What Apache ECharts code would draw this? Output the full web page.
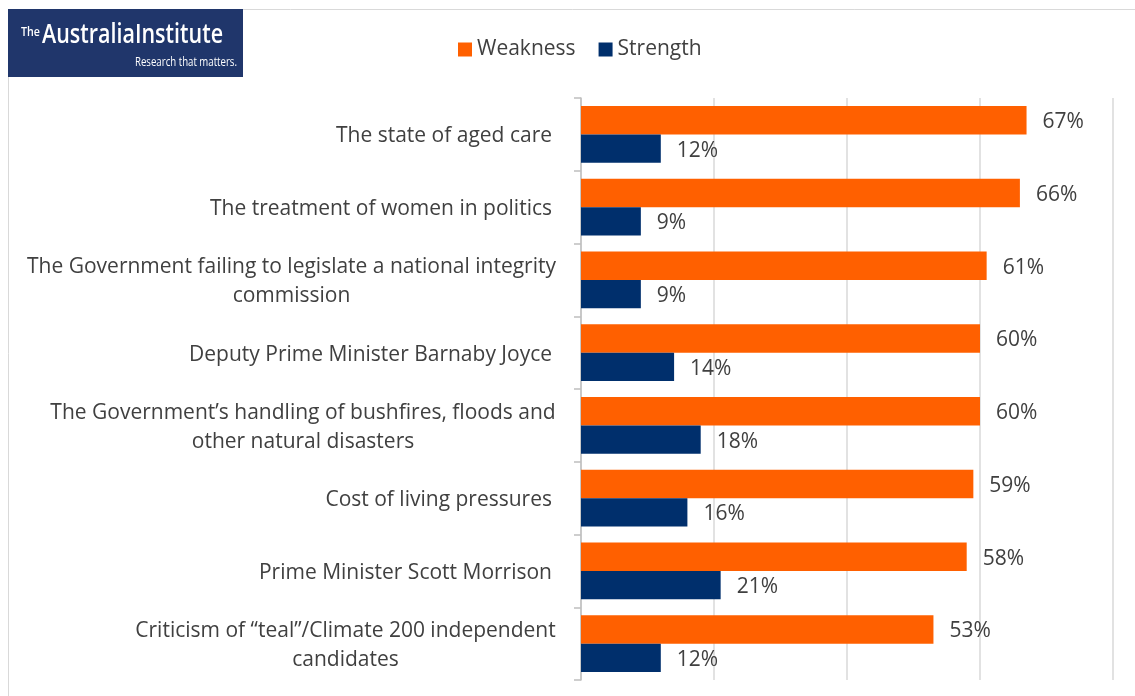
<!DOCTYPE html>
<html><head><meta charset="utf-8">
<script src="https://cdn.jsdelivr.net/npm/echarts@6/dist/echarts.min.js"></script>
<style>html,body{margin:0;padding:0;background:#fff}#c{width:1135px;height:696px}</style>
</head><body><div id="c"></div>
<script>
const categories = [
  "The state of aged care",
  "The treatment of women in politics",
  "The Government failing to legislate a national integrity\ncommission",
  "Deputy Prime Minister Barnaby Joyce",
  "The Government\u2019s handling of bushfires, floods and\nother natural disasters",
  "Cost of living pressures",
  "Prime Minister Scott Morrison",
  "Criticism of \u201cteal\u201d/Climate 200 independent\ncandidates"
];
const weakness = [67, 66, 61, 60, 60, 59, 58, 53];
const strength = [12, 9, 9, 14, 18, 16, 21, 12];
const seriesNames = ["Weakness", "Strength"];

const font = "'Open Sans', 'Noto Sans', sans-serif";
const labelSize = 21;
const cv = document.createElement('canvas').getContext('2d');
function measure(text, f) { cv.font = f; return cv.measureText(text).width; }

// rich styles so that wrapped lines are centred inside a right-aligned block
const rich = {};
categories.forEach((c, i) => {
  const lines = c.split('\n');
  if (lines.length > 1) {
    const w = Math.max(...lines.map(l => measure(l, labelSize + "px 'Open Sans'")));
    rich['m' + i] = {width: Math.ceil(w) + 2, align: 'center', fontSize: labelSize, color: '#404040', fontFamily: font, lineHeight: 29, padding: [4, 0, 0, 0]};
  }
});
rich.s = {fontSize: labelSize, color: '#404040', fontFamily: font, lineHeight: 29, padding: [4, 5, 0, 0]};

const logoFont1 = "600 27px 'Open Sans'";
const logoFont2 = "12px 'Open Sans'";
const w1 = measure('AustraliaInstitute', logoFont1);
const w2 = measure('Research that matters.', logoFont2);
const wThe = measure('The', "600 12px 'Open Sans'");

const chart = echarts.init(document.getElementById('c'), null, {renderer: 'canvas'});
const lbl = {show: true, position: 'right', distance: 16, offset: [0, 2], formatter: '{c}%', color: '#404040', fontSize: 21, fontFamily: font};
chart.setOption({
  animation: false,
  textStyle: {fontFamily: font},
  graphic: [
    {type: 'rect', shape: {x: 8.5, y: 9.5, width: 1140, height: 700}, style: {fill: 'none', stroke: '#d9d9d9', lineWidth: 1}, z: 0},
    {type: 'rect', shape: {x: 8, y: 9, width: 235, height: 68}, style: {fill: '#20366b'}, z: 10},
    {type: 'text', x: 21, y: 27, scaleX: 19 / wThe, style: {text: 'The', fill: '#fff', font: "600 12px 'Open Sans'", textVerticalAlign: 'top'}, z: 11},
    {type: 'text', x: 42, y: 22, scaleX: 181 / w1, style: {text: 'AustraliaInstitute', fill: '#fff', font: logoFont1, textVerticalAlign: 'top'}, z: 11},
    {type: 'text', x: 135, y: 57, scaleX: 102 / w2, style: {text: 'Research that matters.', fill: '#fff', font: logoFont2, textVerticalAlign: 'top'}, z: 11}
  ],
  legend: {
    data: seriesNames, top: 34, left: 453, itemWidth: 14, itemHeight: 14, itemGap: 23,
    icon: 'rect', textStyle: {fontSize: 21, color: '#404040', fontFamily: font}
  },
  grid: {left: 581, right: 22, top: 98, bottom: 16, containLabel: false},
  xAxis: {
    type: 'value', min: 0, max: 80, interval: 20,
    axisLabel: {show: false}, axisLine: {show: false}, axisTick: {show: false},
    splitLine: {show: true, lineStyle: {color: '#d9d9d9', width: 1.5}}
  },
  yAxis: {
    type: 'category', data: categories, inverse: true,
    axisLine: {show: true, lineStyle: {color: '#bfbfbf', width: 1.5}},
    axisTick: {show: true, length: 7, lineStyle: {color: '#bfbfbf', width: 1.5}},
    axisLabel: {
      margin: 24, align: 'right', color: '#404040', fontSize: labelSize, fontFamily: font, lineHeight: 29,
      formatter: (v, i) => {
        const lines = v.split('\n');
        const key = lines.length > 1 ? 'm' + i : 's';
        return lines.map(l => '{' + key + '|' + l + '}').join('\n');
      },
      rich: rich
    }
  },
  series: [
    {name: seriesNames[0], type: 'bar', data: weakness, itemStyle: {color: '#ff6000'}, barGap: '0%', barCategoryGap: '22%', label: lbl},
    {name: seriesNames[1], type: 'bar', data: strength, itemStyle: {color: '#002f6c'}, barGap: '0%', barCategoryGap: '22%', label: lbl}
  ]
});
</script></body></html>
